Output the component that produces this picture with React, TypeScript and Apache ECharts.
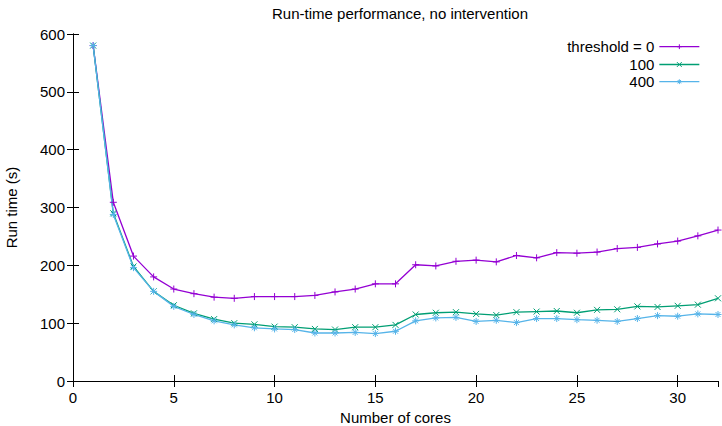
import React, { useEffect, useRef } from "react";
import * as echarts from "echarts";

const cores = [1, 2, 3, 4, 5, 6, 7, 8, 9, 10, 11, 12, 13, 14, 15, 16, 17, 18, 19, 20, 21, 22, 23, 24, 25, 26, 27, 28, 29, 30, 31, 32];
const threshold0 = [580, 309, 216, 180, 159, 151, 145, 143, 146, 146, 146, 148, 154, 159, 168, 168, 201, 199, 207, 209, 206, 217, 213, 222, 221, 223, 229, 231, 237, 242, 251, 261];
const threshold100 = [580, 290, 198, 155, 131, 117, 107, 100, 98, 94, 93, 90, 89, 93, 93, 97, 115, 118, 119, 116, 114, 119, 120, 121, 118, 123, 124, 129, 128, 130, 132, 143];
const threshold400 = [580, 288, 196, 155, 129, 115, 104, 97, 92, 90, 89, 83, 83, 84, 82, 86, 104, 109, 110, 103, 105, 101, 108, 108, 106, 105, 103, 108, 113, 112, 116, 115];
const seriesNames = ["threshold = 0", "100", "400"];
const colors = ["#9400d3", "#009e73", "#56b4e9"];

const FONT = "'Liberation Sans', Arial, Helvetica, sans-serif";

const symPlus = "path://M0,5L10,5M5,0L5,10";
const symCross = "path://M0,0L10,10M10,0L0,10";
const symStar = "path://M0,5L10,5M5,0L5,10M1.5,1.5L8.5,8.5M8.5,1.5L1.5,8.5";
const symbols = [symPlus, symCross, symStar];
const legendCenters = [46.7, 64.5, 81.7];

export default function App() {
  const ref = useRef<HTMLDivElement>(null);
  useEffect(() => {
    if (!ref.current) return;
    const chart = echarts.init(ref.current, undefined, { renderer: "svg" });
    const pairs = (vals: number[]) => cores.map((c, i) => [c, vals[i]]);
    const mk = (i: number, vals: number[], size: number) => ({
      name: seriesNames[i],
      type: "line",
      data: pairs(vals),
      xAxisIndex: 0,
      yAxisIndex: 0,
      symbol: symbols[i],
      symbolSize: size,
      showSymbol: true,
      lineStyle: { color: colors[i], width: 1.3 },
      itemStyle: { color: colors[i], borderColor: colors[i], borderWidth: 1 },
    });
    const axisCommon = {
      axisLine: { show: true, lineStyle: { color: "#000", width: 1 } },
      axisTick: { show: true, inside: true, length: 6, lineStyle: { color: "#000" } },
      splitLine: { show: false },
    };
    chart.setOption({
      animation: false,
      backgroundColor: "#fff",
      title: {
        text: "Run-time performance, no intervention",
        left: 395,
        textAlign: "center",
        top: 1,
        textStyle: { fontFamily: FONT, fontSize: 15, fontWeight: "normal", color: "#000" },
      },
      grid: { left: 73, right: 4, top: 34, bottom: 45, containLabel: false, outerBoundsMode: "none" },
      legend: seriesNames.map((n, i) => ({
        data: [n],
        right: 22,
        top: legendCenters[i] - 8.5,
        padding: 0,
        align: "right",
        itemWidth: 40,
        itemHeight: 6,
        textStyle: { fontFamily: FONT, fontSize: 15, lineHeight: 17, color: "#000" },
        lineStyle: { width: 1.3 },
        itemStyle: { borderWidth: 1 },
        selectedMode: false,
      })),
      xAxis: [
        {
          type: "value",
          min: 0,
          max: 32,
          interval: 5,
          name: "Number of cores",
          nameLocation: "middle",
          nameGap: 29,
          nameTextStyle: { fontFamily: FONT, fontSize: 15, color: "#000" },
          axisLabel: { fontFamily: FONT, fontSize: 15, color: "#000", margin: 9, showMaxLabel: false },
          ...axisCommon,
        },
        {
          type: "value",
          position: "top",
          min: 0,
          max: 32,
          interval: 5,
          axisLabel: { show: false },
          ...axisCommon,
        },
      ],
      yAxis: [
        {
          type: "value",
          min: 0,
          max: 600,
          interval: 100,
          name: "Run time (s)",
          nameLocation: "middle",
          nameGap: 54,
          nameTextStyle: { fontFamily: FONT, fontSize: 15, color: "#000" },
          axisLabel: { fontFamily: FONT, fontSize: 15, color: "#000", margin: 8 },
          ...axisCommon,
        },
        {
          type: "value",
          position: "right",
          min: 0,
          max: 600,
          interval: 100,
          axisLabel: { show: false },
          ...axisCommon,
        },
      ],
      series: [mk(0, threshold0, 7), mk(1, threshold100, 6), mk(2, threshold400, 7)],
    });
    return () => chart.dispose();
  }, []);
  return (
    <div
      ref={ref}
      style={{ position: "absolute", left: 0, top: 0, width: 722, height: 426, background: "#fff" }}
    />
  );
}
